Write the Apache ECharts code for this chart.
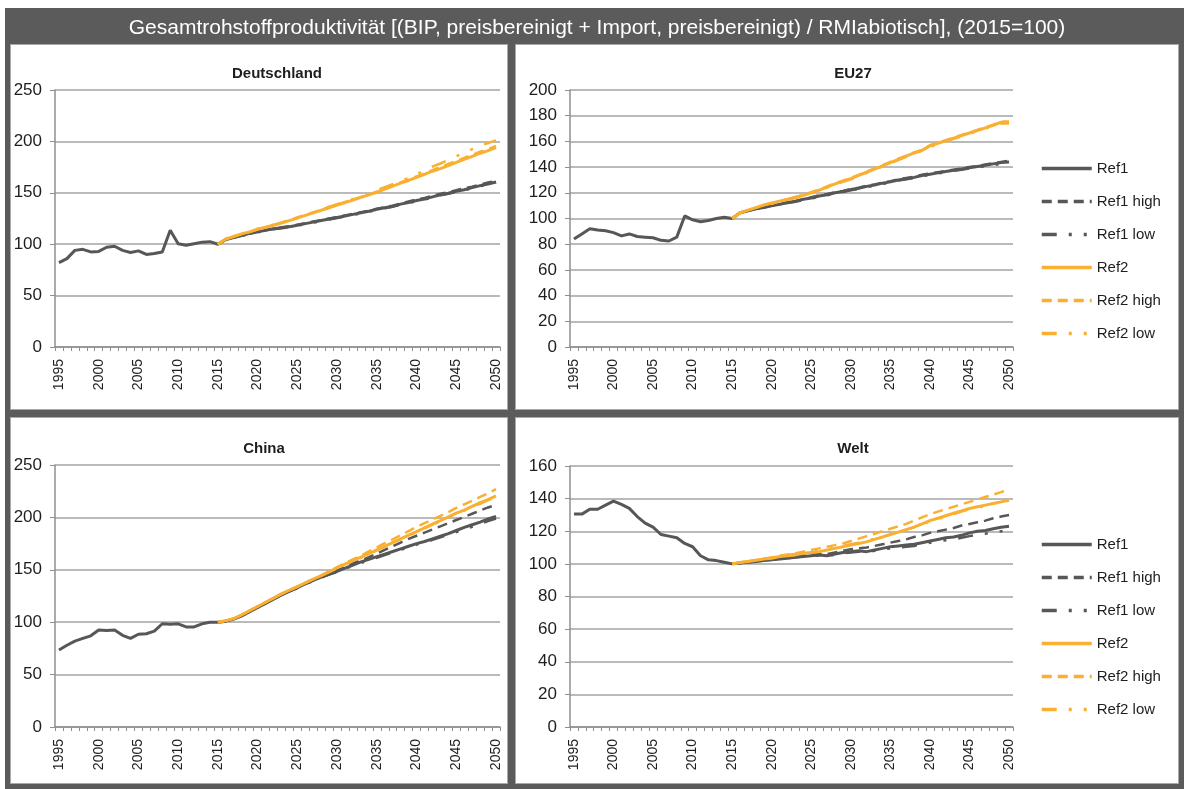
<!DOCTYPE html>
<html>
<head>
<meta charset="utf-8">
<title>Gesamtrohstoffproduktivität</title>
<script src="https://cdn.jsdelivr.net/npm/echarts@6/dist/echarts.min.js"></script>
<style>
  html, body { margin: 0; padding: 0; background: #ffffff; }
  #frame { position: absolute; left: 5px; top: 8px; width: 1179px; height: 781px; background: #5b5b5b; }
  .panel { position: absolute; background: #ffffff; border: 1px solid #a9a9a9; box-sizing: border-box; }
  #chart { position: absolute; left: 0; top: 0; width: 1184px; height: 789px; }
</style>
</head>
<body>
<div id="frame"></div>
<div class="panel" style="left:10px;top:44px;width:498px;height:366px;"></div>
<div class="panel" style="left:515px;top:44px;width:664px;height:366px;"></div>
<div class="panel" style="left:10px;top:417px;width:498px;height:367px;"></div>
<div class="panel" style="left:515px;top:417px;width:664px;height:367px;"></div>
<div id="chart"></div>
<script>
// Years on the category axis
const years = ['1995','1996','1997','1998','1999','2000','2001','2002','2003','2004',
  '2005','2006','2007','2008','2009','2010','2011','2012','2013','2014',
  '2015','2016','2017','2018','2019','2020','2021','2022','2023','2024',
  '2025','2026','2027','2028','2029','2030','2031','2032','2033','2034',
  '2035','2036','2037','2038','2039','2040','2041','2042','2043','2044',
  '2045','2046','2047','2048','2049','2050'];

const mainTitle = 'Gesamtrohstoffproduktivität [(BIP, preisbereinigt + Import, preisbereinigt) / RMIabiotisch], (2015=100)';
const regionNames = ['Deutschland', 'EU27', 'China', 'Welt'];
const seriesNames = ['Ref1', 'Ref1 high', 'Ref1 low', 'Ref2', 'Ref2 high', 'Ref2 low'];

// History 1995-2014 (index 2015 = 100)
const histDE = [82, 86, 94, 95, 92.5, 93, 97, 98, 94, 92, 93.5, 90, 91, 92.5, 113.5, 100.5, 99, 100.5, 102, 102.5];
const histEU = [84, 88, 92, 91, 90.5, 89, 86.5, 88, 86, 85.5, 85, 83, 82.5, 85.5, 102, 99, 97.5, 98.5, 100, 101];
const histCN = [73.5, 78, 82, 84.5, 87, 92.5, 92, 92.5, 87.5, 84.5, 88.5, 89, 91.5, 98.5, 98, 98.5, 95.5, 95.5, 98.5, 100];
const histWL = [130.5, 130.5, 133.5, 133.5, 136, 138.5, 136.5, 134, 129, 125, 122.5, 118, 117, 116, 112.5, 110.5, 105, 102.5, 102, 101];

// Scenarios 2015-2050
const deRef1  = [100,104.5,106.5,108.5,110.5,112,113.5,115,116,117,118.5,120,121.5,123,124.5,126,127.5,129,130.5,132,134,135.5,137,139,140.5,142.5,144,146,148,149.5,151.5,153,155,157,158.5,160.5];
const deRef1h = [100,104.5,106.5,108.5,110.5,112,113.5,115,116.5,117.5,119,120.5,122,123.5,125,126.5,128,129.5,131,132.5,134.5,136,137.5,139.5,141.5,143.5,145,147,149,150.5,152.5,154.5,156,158,160,161.5];
const deRef1l = [100,104.5,106.5,108,110,111.5,113,114.5,115.5,116.5,118,119.5,121,122.5,124,125.5,127,128.5,130,131.5,133.5,135,136.5,138.5,140,142,143.5,145.5,147.5,149,151,152.5,154.5,156.5,158,160];
const deRef2  = [100,105,107.5,110,112,114.5,116.5,118.5,120.5,123,125.5,128,130.5,133,135.5,138,140.5,143,145.5,148,150.5,153.5,156.5,159.5,162,165,168,171,173.5,176.5,179.5,182.5,185.5,188.5,191,194];
const deRef2h = [100,105,107.5,110,112,114.5,116.5,118.5,121,123.5,126,128.5,131,133.5,136,138.5,141,143.5,146,148.5,151,154,157,160,163,166,169,172,175,178,181,184,187,190,192.5,195.5];
const deRef2l = [100,105,107.5,110,112.5,115,117,119,121,123.5,126,128.5,131,133.5,136.5,139,141.5,144,146.5,149.5,152.5,155.5,158.5,161.5,164.5,168,172,175.5,178.5,182,185.5,189,192.5,196,198.5,201];

const euRef1  = [100,104.5,106,107.5,108.5,110,111,112.5,113.5,115,116,117.5,118.5,120,121,122.5,123.5,125,126,127.5,128.5,130,131,132,133.5,134.5,135.5,136.5,137.5,138.5,139.5,140.5,141.5,142.5,143.5,144];
const euRef1h = [100,104.5,106,107.5,108.5,110,111,112.5,113.5,115,116.5,118,119,120.5,121.5,123,124,125.5,126.5,128,129,130.5,131.5,132.5,134,135,136,137,138,139,140,141,142,143,144,145];
const euRef1l = [100,104.5,106,107.5,108.5,110,111,112,113,114.5,115.5,117,118,119.5,120.5,122,123,124.5,125.5,127,128,129.5,130.5,131.5,133,134,135,136,137,138,139,140,140.5,141.5,142.5,143];
const euRef2  = [100,104.5,106.5,108.5,110.5,112,113.5,115,116.5,118,120,122,124.5,127,129,131,133.5,136,138.5,141,143.5,146,148.5,151,153,156.5,158.5,160.5,162.5,164.5,166.5,168.5,170.5,172.5,175,174.5];
const euRef2h = [100,104.5,106.5,108.5,110.5,112,113.5,115,116.5,118.5,120.5,122.5,125,127.5,129.5,131.5,134,136.5,139,141.5,144,146.5,149,151.5,153.5,157,159,161,163,165,167,169,171,173,175.5,175.5];
const euRef2l = [100,104.5,106.5,108.5,110,111.5,113,114.5,116,117.5,119.5,121.5,124,126.5,128.5,130.5,133,135.5,138,140.5,143,145.5,148,150.5,152.5,155.5,158,160,162,164,166,168,170,172,174,174];

const cnRef1  = [100,101,103,106,110,114,118,122,126,129.5,133,136.5,140,143,146,148.5,151.5,154.5,157.5,160,162.5,165,167.5,170,172.5,175,177,179.5,182,184.5,187.5,190.5,193,195.5,198.5,201];
const cnRef1h = [100,101,103,106,110,114,118,122,126,129.5,133,136.5,140,143.5,146.5,149.5,152.5,156,159,162,165.5,169,172.5,176,179.5,182.5,185.5,188.5,191.5,194.5,197.5,200.5,203.5,206.5,209.5,212];
const cnRef1l = [100,101,103,106,110,114,118,122,126,129,132.5,136,139.5,142.5,145.5,148,151,154,156.5,159,161.5,164,166.5,169,171.5,174,176,178.5,181,183.5,186,188.5,191,193.5,196.5,199];
const cnRef2  = [100,101.5,103.5,107,111,115,119,123,127,130.5,134,137.5,141,144.5,148,152,155.5,159,162,165.5,169,172.5,176,179.5,183,186.5,190,193.5,197,200.5,204,207,210.5,214,217,220.5];
const cnRef2h = [100,101.5,103.5,107,111,115,119,123,127,130.5,134,137.5,141,144.5,148.5,152.5,156.5,160,163.5,167.5,171.5,175.5,179,183,187,191,194.5,198,201.5,205,209,212.5,216,219.5,223,227];
const cnRef2l = [100,101.5,103.5,107,111,115,119,123,127,130.5,134,137.5,141,144.5,148,151.5,155,158.5,161.5,165,168.5,172,175.5,179,182.5,186,189.5,193,196.5,200,203,206.5,210,213,216.5,219.5];

const wlRef1  = [100,100.5,101,101.5,102,102.5,103,103.5,104,104.5,105,105.5,105,106,107,107.5,108,107.5,108.5,109.5,110.5,111,111.5,112,113,114,115,116,116.5,117.5,119,120,120.5,121.5,122.5,123];
const wlRef1h = [100,100.5,101,101.5,102,102.5,103,104,104.5,105,105.5,106,106,107,108,109,109.5,110,111,112,113,114,115,116.5,117.5,119,120,121,122,123.5,124.5,125.5,126.5,128,129,130];
const wlRef1l = [100,100.5,101,101.5,102,102.5,103,103.5,104,104.5,105,105,105,105.5,106.5,107,107.5,107,108,109,109.5,110,110.5,111,112,113,114,114.5,115,116,117,118,118.5,119.5,120,120.5];
const wlRef2  = [100,100.8,101.5,102.2,103,103.5,104.5,105,105.5,106.5,107,107.5,108.5,109.5,110.5,111.5,112.5,113.5,115,116.5,118,119.5,121,122.5,124.5,126.5,128,129.5,131,132.5,134,135,136,137,138,139];
const wlRef2h = [100,100.8,101.6,102.4,103.2,104,105,105.8,106.5,107.5,108.5,109.5,110.5,111.5,112.5,114,115.5,117,118.5,120,121.5,123,124.5,126.5,128.5,130.5,132,133.5,135,136.5,138,139.5,141,142.5,144,146];
const wlRef2l = [100,101,101.5,102.5,103,104,104.5,105.5,106,106.5,107.5,108,109,110,111,112,113,114,115.5,116.5,118,119.5,121,122.5,124,126,127.5,129,130.5,132,133.5,134.5,135.5,137,138,139.5];

// Y-axis scales per panel
const yMax = [250, 200, 250, 160];
const yStep = [50, 20, 50, 20];

const FONT = '"Liberation Sans", Arial, sans-serif';
const GREY = '#575757';
const ORANGE = '#F9B032';
const TEXT = '#1e1e1e';
const AXIS = '#8f8f8f';

// line styles for the six scenarios
const styles = [
  { color: GREY,   width: 3,   type: 'solid' },
  { color: GREY,   width: 2.5, type: [10, 6] },
  { color: GREY,   width: 2.5, type: [15, 12, 3, 12, 3, 12] },
  { color: ORANGE, width: 3,   type: 'solid' },
  { color: ORANGE, width: 2.5, type: [10, 6] },
  { color: ORANGE, width: 2.5, type: [15, 12, 3, 12, 3, 12] }
];

const regions = [
  { hist: histDE, proj: [deRef1, deRef1h, deRef1l, deRef2, deRef2h, deRef2l] },
  { hist: histEU, proj: [euRef1, euRef1h, euRef1l, euRef2, euRef2h, euRef2l] },
  { hist: histCN, proj: [cnRef1, cnRef1h, cnRef1l, cnRef2, cnRef2h, cnRef2l] },
  { hist: histWL, proj: [wlRef1, wlRef1h, wlRef1l, wlRef2, wlRef2h, wlRef2l] }
];

// plot areas of the four panels
const grids = [
  { left: 55,  top: 90,  width: 445, height: 257 },
  { left: 570, top: 90,  width: 443, height: 257 },
  { left: 55,  top: 465, width: 445, height: 262 },
  { left: 570, top: 466, width: 443, height: 261 }
];

const titlePos = [[272, 61], [848, 61], [259, 436], [848, 436]];

const titles = [{
  text: mainTitle, left: 592, top: 13, textAlign: 'center',
  textStyle: { color: '#ffffff', fontSize: 21, fontWeight: 'normal', fontFamily: FONT }
}];
regionNames.forEach((n, i) => titles.push({
  text: n, left: titlePos[i][0], top: titlePos[i][1], textAlign: 'center',
  textStyle: { color: TEXT, fontSize: 15, fontWeight: 'bold', fontFamily: FONT }
}));

const xAxes = grids.map((g, i) => ({
  gridIndex: i, type: 'category', data: years, boundaryGap: true,
  axisLine: { lineStyle: { color: AXIS, width: 1.5 } },
  axisTick: { show: true, interval: 0, length: 4, lineStyle: { color: AXIS } },
  axisLabel: { interval: 4, rotate: 90, fontSize: 14, color: TEXT, margin: 12, fontFamily: FONT },
  splitLine: { show: false }
}));

const yAxes = grids.map((g, i) => ({
  gridIndex: i, type: 'value', min: 0, max: yMax[i], interval: yStep[i],
  axisLine: { show: true, lineStyle: { color: AXIS, width: 1.5 } },
  axisTick: { show: true, length: 5, lineStyle: { color: AXIS } },
  axisLabel: { fontSize: 17, color: TEXT, margin: 13, fontFamily: FONT },
  splitLine: { show: true, lineStyle: { color: '#a3a3a3', width: 1.5 } }
}));

const pad = new Array(20).fill(null);
const series = [];
regions.forEach((r, i) => {
  seriesNames.forEach((name, k) => {
    const data = k === 0 ? r.hist.concat(r.proj[k]) : pad.concat(r.proj[k]);
    series.push({
      name: name, type: 'line', xAxisIndex: i, yAxisIndex: i,
      data: data, symbol: 'none', showSymbol: false, connectNulls: false,
      lineStyle: { color: styles[k].color, width: styles[k].width, type: styles[k].type },
      itemStyle: { color: styles[k].color },
      z: 2 + k
    });
  });
});

const legendBase = {
  orient: 'vertical', left: 1035, itemWidth: 50, itemHeight: 14, itemGap: 18,
  data: seriesNames, selectedMode: false,
  itemStyle: { opacity: 0 },
  lineStyle: { width: 3.5 },
  textStyle: { fontSize: 15, color: TEXT, fontFamily: FONT, lineHeight: 14 }
};

const chart = echarts.init(document.getElementById('chart'), null, { renderer: 'canvas' });
chart.setOption({
  animation: false,
  backgroundColor: 'transparent',
  title: titles,
  grid: grids,
  xAxis: xAxes,
  yAxis: yAxes,
  legend: [
    Object.assign({}, legendBase, { top: 156 }),
    Object.assign({}, legendBase, { top: 532 })
  ],
  series: series
});
</script>
</body>
</html>
